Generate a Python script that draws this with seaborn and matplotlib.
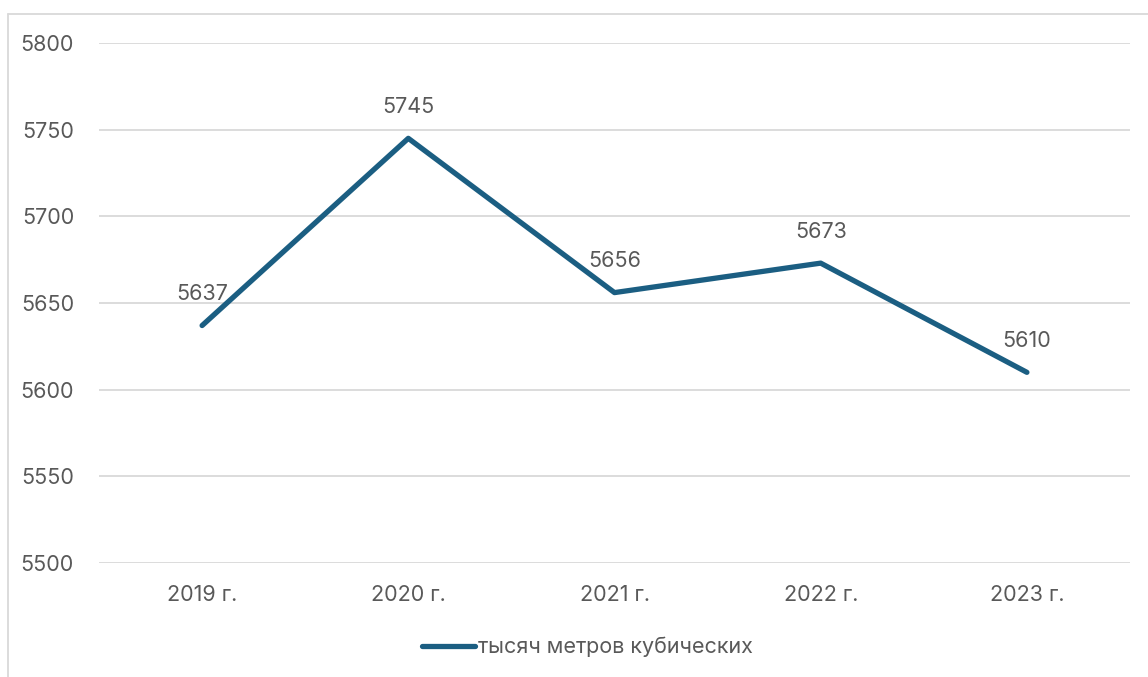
import matplotlib
matplotlib.use("Agg")
import matplotlib.pyplot as plt
import seaborn as sns
import pandas as pd
from matplotlib.lines import Line2D

years = ["2019 г.", "2020 г.", "2021 г.", "2022 г.", "2023 г."]
volumes = [5637, 5745, 5656, 5673, 5610]
series_name = "тысяч метров кубических"
y_ticks = [5500, 5550, 5600, 5650, 5700, 5750, 5800]

sns.set_theme(style="white")
plt.rcParams["font.family"] = ["Inter", "DejaVu Sans"]

line_color = "#1B5E82"
text_color = "#595959"
grid_color = "#D9D9D9"
fs = 15.5

df = pd.DataFrame({"year": years, "volume": volumes, "series": series_name})

fig = plt.figure(figsize=(11.48, 6.77), dpi=100)
ax = fig.add_axes([99 / 1148, 1 - 563 / 677, (1130 - 99) / 1148, (563 - 43) / 677])

sns.lineplot(data=df, x="year", y="volume", ax=ax, color=line_color,
             linewidth=3.8, solid_capstyle="round", legend=False, sort=False)

ax.set_xlim(-0.5, len(years) - 0.5)
ax.set_ylim(5500, 5800)
ax.set_yticks(y_ticks)
ax.yaxis.grid(True, color=grid_color, linewidth=1.3)
ax.set_axisbelow(True)
for s in ax.spines.values():
    s.set_visible(False)
ax.tick_params(axis="both", length=0, labelsize=fs, labelcolor=text_color)
ax.tick_params(axis="y", pad=18)
ax.tick_params(axis="x", pad=16)
ax.set_xlabel("")
ax.set_ylabel("")

for i, v in enumerate(volumes):
    ax.annotate(str(v), (i, v), xytext=(0, 22.5), textcoords="offset points",
                ha="center", va="center", fontsize=fs, color=text_color)

handle = Line2D([0], [0], color=line_color, linewidth=3.8, solid_capstyle="round")
fig.legend([handle], [series_name], loc="center", bbox_to_anchor=(587 / 1148, 1 - 647 / 677),
           frameon=False, fontsize=fs, labelcolor=text_color, handlelength=2.5,
           handletextpad=0.1)

# light frame around the chart area
fig.add_artist(Line2D([7.5 / 1148, 7.5 / 1148], [0, 1 - 13.5 / 677], transform=fig.transFigure,
                      color=grid_color, linewidth=1.3))
fig.add_artist(Line2D([7.5 / 1148, 1], [1 - 13.5 / 677, 1 - 13.5 / 677], transform=fig.transFigure,
                      color=grid_color, linewidth=1.3))

fig.savefig("out.png", dpi=100)
